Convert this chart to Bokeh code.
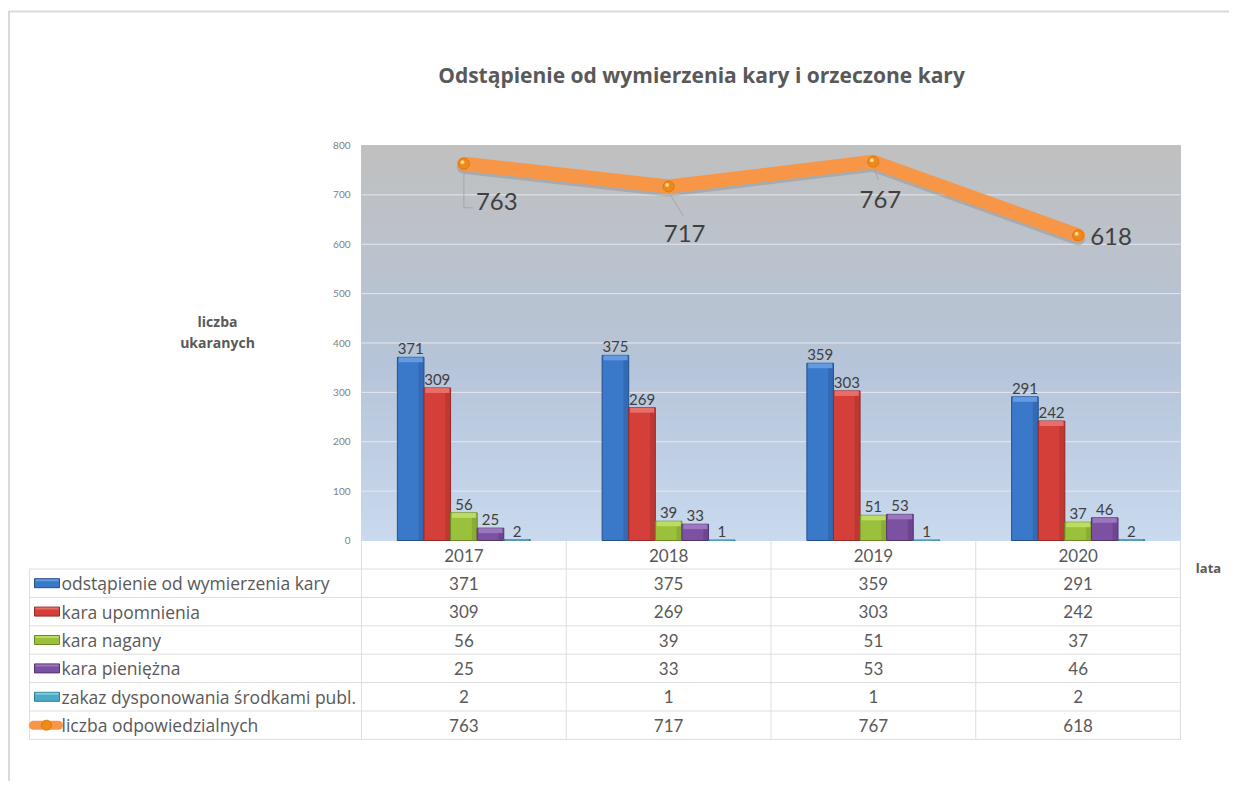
from bokeh.plotting import figure
from bokeh.models import Range1d
from bokeh.core.properties import value
from bokeh.embed import file_html
from bokeh.resources import INLINE

# ---------------- data ----------------
years = ["2017", "2018", "2019", "2020"]
series_names = [
    "odstąpienie od wymierzenia kary",
    "kara upomnienia",
    "kara nagany",
    "kara pieniężna",
    "zakaz dysponowania środkami publ.",
]
odstapienie = [371, 375, 359, 291]
upomnienie = [309, 269, 303, 242]
nagana = [56, 39, 51, 37]
pieniezna = [25, 33, 53, 46]
zakaz = [2, 1, 1, 2]
line_name = "liczba odpowiedzialnych"
odpowiedzialni = [763, 717, 767, 618]
y_ticks = [0, 100, 200, 300, 400, 500, 600, 700, 800]

title_text = "Odstąpienie od wymierzenia kary i orzeczone kary"
y_title = ["liczba", "ukaranych"]
x_title = "lata"

bar_series = [odstapienie, upomnienie, nagana, pieniezna, zakaz]
bar_colors = ["#3a78c9", "#d43f3a", "#9bc13c", "#7c51a1", "#4bacc6"]
bar_dark = ["#24508c", "#962a27", "#6b8a25", "#54346f", "#2f7f94"]
bar_light = ["#6fa3e6", "#ee7a75", "#c4e36c", "#a47fc6", "#8fd3e6"]
line_color = "#f79646"

NUMF = value("Lato")
WORDF = value("Open Sans")

# ---------------- layout helpers (screen px -> data) ----------------
W, H = 1229, 781
CX0, CW = 361.0, 204.75      # screen x of plot-area left edge, px per category
PY0, K = 540.0, 395.0 / 800  # screen y of value 0, px per unit


def X(sx):
    return (sx - CX0) / CW


def Y(sy):
    return (PY0 - sy) / K


p = figure(width=W, height=H, output_backend="svg", toolbar_location=None,
           x_range=Range1d(X(0), X(W)), y_range=Range1d(Y(H), Y(0)),
           min_border=0, x_axis_location=None, y_axis_location=None)
p.grid.visible = False
p.outline_line_color = None
p.background_fill_color = "white"
p.border_fill_color = "white"

# outer chart border (top & left)
p.line([X(8.5), X(8.5), X(1237)], [Y(789), Y(11), Y(11)], line_color="#d9d9d9", line_width=2)

# ---------------- plot area gradient ----------------
def lerp(c1, c2, t):
    a = [int(c1[i:i + 2], 16) for i in (1, 3, 5)]
    b = [int(c2[i:i + 2], 16) for i in (1, 3, 5)]
    return "#%02x%02x%02x" % tuple(int(round(a[i] + (b[i] - a[i]) * t)) for i in range(3))


stops = [(0.0, "#c9d9ee"), (0.45, "#b5c4d8"), (1.0, "#c0c0c0")]
nb = 80
bottoms, tops, cols = [], [], []
for k in range(nb):
    v0 = 800 * k / nb
    v1 = 800 * (k + 1) / nb
    t = (k + 0.5) / nb
    for s in range(len(stops) - 1):
        if stops[s][0] <= t <= stops[s + 1][0]:
            tt = (t - stops[s][0]) / (stops[s + 1][0] - stops[s][0])
            cols.append(lerp(stops[s][1], stops[s + 1][1], tt))
            break
    bottoms.append(v0)
    tops.append(v1)
p.quad(left=0, right=len(years), bottom=bottoms, top=tops, fill_color=cols,
       line_color=cols, line_width=1)

# gridlines
grid_vals = y_ticks[1:-1]
p.segment(x0=[0] * len(grid_vals), x1=[len(years)] * len(grid_vals), y0=grid_vals, y1=grid_vals,
          line_color="#e4e8ee", line_width=1)

# y tick labels
p.text(x=[X(350)] * len(y_ticks), y=y_ticks, text=[str(t) for t in y_ticks],
       text_align="right", text_baseline="middle", text_font=NUMF,
       text_font_size="10px", text_color="#808080")

# ---------------- bars ----------------
BW = 26.6 / CW
for j, (vals, c, cd, cl) in enumerate(zip(bar_series, bar_colors, bar_dark, bar_light)):
    xs = [i + 0.5 + (j - 2) * BW for i in range(len(years))]
    p.vbar(x=xs, top=vals, bottom=0, width=BW, fill_color=c, line_color=cd, line_width=1)
    hs = [min(v, 5 / K) for v in vals]
    p.vbar(x=xs, top=vals, bottom=[v - h for v, h in zip(vals, hs)], width=BW * 0.9,
           fill_color=cl, line_color=None, fill_alpha=0.8)
    p.vbar(x=[x + BW * 0.4 for x in xs], top=[v - h for v, h in zip(vals, hs)], bottom=0,
           width=BW * 0.2, fill_color=cd, line_color=None, fill_alpha=0.35)
    p.text(x=xs, y=vals, text=[str(v) for v in vals], text_align="center",
           text_baseline="bottom", y_offset=-3, text_font=NUMF,
           text_font_size="15px", text_color="#404040")

# ---------------- line ----------------
lx = [i + 0.5 for i in range(len(years))]
p.line(lx, [v - 3 / K for v in odpowiedzialni], line_color="#808080", line_alpha=0.35,
       line_width=14, line_join="round", line_cap="round")
p.line(lx, odpowiedzialni, line_color=line_color, line_width=14,
       line_join="round", line_cap="round")
p.scatter(lx, odpowiedzialni, size=11, fill_color="#ee8a1a", line_color="#d97a10")
p.scatter([x - 1.5 / CW for x in lx], [v + 1.5 / K for v in odpowiedzialni], size=4,
          fill_color="#ffd58a", line_color=None)

leader_px = [[(0, 7), (0, 44), (9, 44)], [(1, 7), (15, 30)], [(0, 5), (5, 18)], None]
for i, pts in enumerate(leader_px):
    if pts is None:
        continue
    p.line([lx[i] + dx / CW for dx, dy in pts], [odpowiedzialni[i] - dy / K for dx, dy in pts],
           line_color="#a6a6a6", line_width=1)

label_off = [(12, 38, "left"), (16, 47, "center"), (7, 38, "center"), (12, 1, "left")]
for i, v in enumerate(odpowiedzialni):
    dx, dy, al = label_off[i]
    p.text(x=[lx[i]], y=[v], text=[str(v)], x_offset=dx, y_offset=dy, text_align=al,
           text_baseline="middle", text_font=NUMF, text_font_size="24px", text_color="#404040")

# ---------------- data table ----------------
TL = 29.0
HDR_TOP = 540.0
HDR_BOT = 568.5
ROW_H = 28.4
rows_vals = bar_series + [odpowiedzialni]
rows_names = series_names + [line_name]
n_rows = len(rows_vals)
row_bounds = [HDR_BOT + ROW_H * r for r in range(n_rows + 1)]
TB = row_bounds[-1]
grid_col = "#dedede"

p.segment(x0=[X(TL)] * (n_rows + 1), x1=[len(years)] * (n_rows + 1),
          y0=[Y(b) for b in row_bounds], y1=[Y(b) for b in row_bounds],
          line_color=grid_col, line_width=1)
vx = list(range(len(years) + 1))
p.segment(x0=vx, x1=vx, y0=[0] * len(vx), y1=[Y(TB)] * len(vx), line_color=grid_col, line_width=1)
p.segment(x0=[X(TL)], x1=[X(TL)], y0=[Y(HDR_BOT)], y1=[Y(TB)], line_color=grid_col, line_width=1)

p.text(x=lx, y=[Y((HDR_TOP + HDR_BOT) / 2 + 1)] * len(years), text=years, text_align="center",
       text_baseline="middle", text_font=NUMF, text_font_size="17px", text_color="#595959")

for r in range(n_rows):
    cy = Y((row_bounds[r] + row_bounds[r + 1]) / 2)
    p.text(x=lx, y=[cy] * len(years), text=[str(v) for v in rows_vals[r]], text_align="center",
           text_baseline="middle", text_font=NUMF, text_font_size="17px", text_color="#595959")
    p.text(x=[X(61)], y=[cy], text=[rows_names[r]], text_align="left", text_baseline="middle",
           text_font=WORDF, text_font_size="17.5px", text_color="#595959")
    if r < len(bar_colors):
        p.quad(left=X(34), right=X(59), bottom=cy - 4.5 / K, top=cy + 4.5 / K,
               fill_color=bar_colors[r], line_color=bar_dark[r], line_width=1)
        p.quad(left=X(35), right=X(58), bottom=cy + 2 / K, top=cy + 4 / K,
               fill_color=bar_light[r], line_color=None, fill_alpha=0.8)
    else:
        p.line([X(33), X(58)], [cy, cy], line_color=line_color, line_width=9, line_cap="round")
        p.scatter([X(46)], [cy], size=10, fill_color="#ee8a1a", line_color="#d97a10")

# ---------------- titles ----------------
p.text(x=[X(701)], y=[Y(74)], text=[title_text], text_align="center", text_baseline="middle",
       text_font=WORDF, text_font_size="21px", text_font_style="bold", text_color="#595959")
p.text(x=[X(217)] * 2, y=[Y(321), Y(342)], text=y_title, text_align="center",
       text_baseline="middle", text_font=WORDF, text_font_size="14px", text_font_style="bold",
       text_color="#595959")
p.text(x=[X(1208)], y=[Y(567)], text=[x_title], text_align="center", text_baseline="middle",
       text_font=WORDF, text_font_size="13px", text_font_style="bold", text_color="#595959")

open("out.html", "w").write(file_html(p, INLINE))
